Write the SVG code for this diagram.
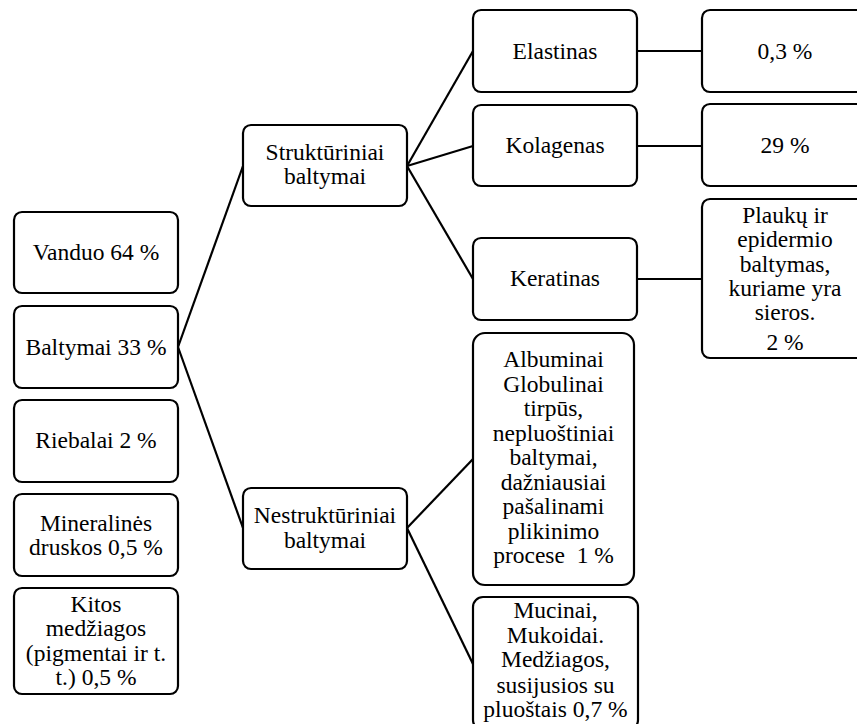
<svg xmlns="http://www.w3.org/2000/svg" width="857" height="724" viewBox="0 0 857 724" font-family="Liberation Serif, Times New Roman, DejaVu Serif, serif">
<style>
.box{fill:#fff;stroke:#000;stroke-width:2.2}
text{font-family:"Liberation Serif","Times New Roman","DejaVu Serif",serif;font-size:23.5px;fill:#000;text-anchor:middle}
.c{stroke:#000;stroke-width:2.2;fill:none}
</style>
<rect width="857" height="724" fill="#fff"/>
<g id="connectors">
<line class="c" x1="178" y1="347" x2="243" y2="166"/>
<line class="c" x1="178" y1="347" x2="243" y2="528"/>
<line class="c" x1="407" y1="166" x2="473" y2="51"/>
<line class="c" x1="407" y1="166" x2="473" y2="146"/>
<line class="c" x1="407" y1="166" x2="473" y2="279"/>
<line class="c" x1="637" y1="51" x2="702" y2="51"/>
<line class="c" x1="637" y1="146" x2="702" y2="146"/>
<line class="c" x1="637" y1="279" x2="702" y2="279"/>
<line class="c" x1="407" y1="528" x2="473" y2="459"/>
<line class="c" x1="407" y1="528" x2="473" y2="664"/>
</g>
<g id="vanduo"><rect class="box" x="14" y="212" width="164" height="81" rx="8"/><text x="96" y="260">Vanduo 64 %</text></g>
<g id="baltymai"><rect class="box" x="14" y="306" width="164" height="82" rx="8"/><text x="96" y="355">Baltymai 33 %</text></g>
<g id="riebalai"><rect class="box" x="14" y="400" width="164" height="82" rx="8"/><text x="96" y="448">Riebalai 2 %</text></g>
<g id="mineralines"><rect class="box" x="14" y="494" width="164" height="82" rx="8"/><text x="96" y="531">Mineralinės</text><text x="96" y="555">druskos 0,5 %</text></g>
<g id="kitos"><rect class="box" x="14" y="588" width="164" height="106" rx="8"/><text x="96" y="612">Kitos</text><text x="96" y="636">medžiagos</text><text x="96" y="661">(pigmentai ir t.</text><text x="96" y="685">t.) 0,5 %</text></g>
<g id="strukturiniai"><rect class="box" x="243" y="125" width="164" height="81" rx="8"/><text x="325" y="160">Struktūriniai</text><text x="325" y="184">baltymai</text></g>
<g id="nestrukturiniai"><rect class="box" x="243" y="488" width="164" height="81" rx="8"/><text x="325" y="523">Nestruktūriniai</text><text x="325" y="548">baltymai</text></g>
<g id="elastinas"><rect class="box" x="473" y="10" width="164" height="82" rx="8"/><text x="555" y="59">Elastinas</text></g>
<g id="kolagenas"><rect class="box" x="473" y="105" width="164" height="81" rx="8"/><text x="555" y="153">Kolagenas</text></g>
<g id="keratinas"><rect class="box" x="473" y="238" width="164" height="82" rx="8"/><text x="555" y="286">Keratinas</text></g>
<g id="elastinas-pct"><rect class="box" x="702" y="10" width="164" height="82" rx="8"/><text x="785" y="59">0,3 %</text></g>
<g id="kolagenas-pct"><rect class="box" x="702" y="104" width="164" height="82" rx="8"/><text x="785" y="153">29 %</text></g>
<g id="keratinas-desc"><rect class="box" x="702" y="199" width="164" height="159" rx="8"/><text x="785" y="223">Plaukų ir</text><text x="785" y="247">epidermio</text><text x="785" y="272">baltymas,</text><text x="785" y="296">kuriame yra</text><text x="785" y="320">sieros.</text><text x="785" y="350">2 %</text></g>
<g id="albuminai"><rect class="box" x="473" y="333" width="161" height="252" rx="12"/><text x="553.5" y="367">Albuminai</text><text x="553.5" y="391.5">Globulinai</text><text x="553.5" y="416">tirpūs,</text><text x="553.5" y="440.5">nepluoštiniai</text><text x="553.5" y="465">baltymai,</text><text x="553.5" y="489.5">dažniausiai</text><text x="553.5" y="514">pašalinami</text><text x="553.5" y="538.5">plikinimo</text><text x="553.5" y="563" xml:space="preserve">procese  1 %</text></g>
<g id="mucinai"><rect class="box" x="473" y="597" width="165" height="133" rx="10"/><text x="555.5" y="618">Mucinai,</text><text x="555.5" y="643">Mukoidai.</text><text x="555.5" y="667">Medžiagos,</text><text x="555.5" y="693">susijusios su</text><text x="555.5" y="717">pluoštais 0,7 %</text></g>
</svg>
